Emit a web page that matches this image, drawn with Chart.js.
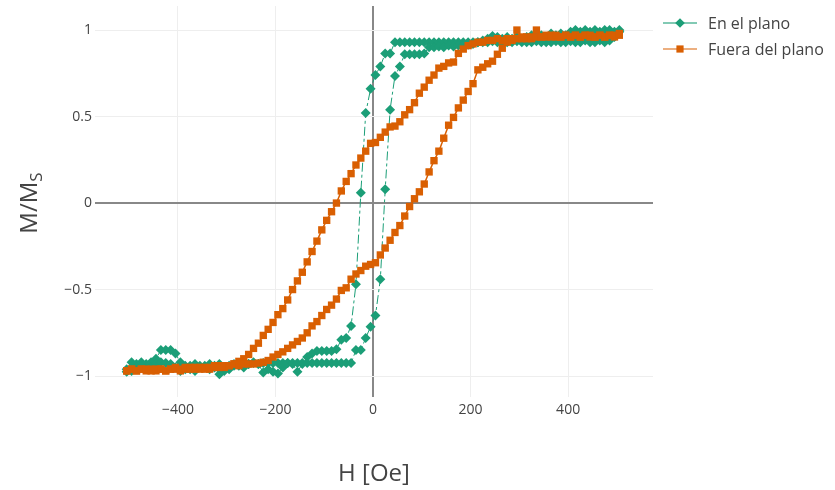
<!DOCTYPE html>
<html>
<head>
<meta charset="utf-8">
<script src="https://cdn.jsdelivr.net/npm/chart.js@4.4.1/dist/chart.umd.min.js"></script>
<style>
  html, body { margin: 0; padding: 0; background: #fff; }
</style>
</head>
<body>
<canvas id="chart" width="835" height="490"></canvas>
<script>
// ── Data ─────────────────────────────────────────────────────────────────────

const seriesNames = ['En el plano', 'Fuera del plano']
const xTitle = 'H [Oe]'
const xTicks = [-400, -200, 0, 200, 400]
const yTicks = [-1, -0.5, 0, 0.5, 1]

// applied field, descending sweep then ascending sweep (Oe)
const fieldDown = [505, 495, 485, 475, 465, 455, 445, 435, 425, 415, 405, 395, 385, 375, 365, 355, 345, 335, 325, 315,
  305, 295, 285, 275, 265, 255, 245, 235, 225, 215, 205, 195, 185, 175, 165, 155, 145, 135, 125, 115,
  105, 95, 85, 75, 65, 55, 45, 35, 25, 15, 5, -5, -15, -25, -35, -45, -55, -65, -75, -85,
  -95, -105, -115, -125, -135, -145, -155, -165, -175, -185, -195, -205, -215, -225, -235, -245, -255, -265, -275, -285,
  -295, -305, -315, -325, -335, -345, -355, -365, -375, -385, -395, -405, -415, -425, -435, -445, -455, -465, -475, -485,
  -495, -505]
const fieldUp = [-505, -495, -485, -475, -465, -455, -445, -435, -425, -415, -405, -395, -385, -375, -365, -355, -345, -335, -325, -315,
  -305, -295, -285, -275, -265, -255, -245, -235, -225, -215, -205, -195, -185, -175, -165, -155, -145, -135, -125, -115,
  -105, -95, -85, -75, -65, -55, -45, -35, -25, -15, -5, 5, 15, 25, 35, 45, 55, 65, 75, 85,
  95, 105, 115, 125, 135, 145, 155, 165, 175, 185, 195, 205, 215, 225, 235, 245, 255, 265, 275, 285,
  295, 305, 315, 325, 335, 345, 355, 365, 375, 385, 395, 405, 415, 425, 435, 445, 455, 465, 475, 485,
  495, 505]

// M/Ms, in-plane
const greenDown = [0.99, 0.96, 0.94, 0.93, 0.94, 0.93, 0.93, 0.94, 0.93, 0.93, 0.935, 0.93, 0.93, 0.935, 0.93, 0.93, 0.93, 0.935, 0.93, 0.93,
  0.93, 0.935, 0.93, 0.93, 0.93, 0.93, 0.935, 0.93, 0.93, 0.93, 0.93, 0.93, 0.93, 0.93, 0.93, 0.93, 0.93, 0.93, 0.93, 0.93,
  0.93, 0.93, 0.93, 0.93, 0.93, 0.93, 0.93, 0.865, 0.865, 0.79, 0.74, 0.66, 0.52, 0.06, -0.47, -0.71, -0.78, -0.79, -0.845, -0.855,
  -0.855, -0.855, -0.855, -0.87, -0.89, -0.93, -0.975, -0.93, -0.925, -0.95, -0.985, -0.975, -0.96, -0.98, -0.93, -0.92, -0.93, -0.95, -0.93, -0.94,
  -0.96, -0.97, -0.99, -0.95, -0.93, -0.94, -0.95, -0.93, -0.94, -0.96, -0.92, -0.87, -0.85, -0.85, -0.85, -0.90, -0.92, -0.93, -0.92, -0.93,
  -0.92, -0.96]
const greenUp = [-0.975, -0.97, -0.95, -0.945, -0.96, -0.95, -0.93, -0.92, -0.925, -0.93, -0.95, -0.97, -0.94, -0.96, -0.97, -0.94, -0.95, -0.96, -0.94, -0.93,
  -0.95, -0.94, -0.93, -0.94, -0.925, -0.93, -0.925, -0.93, -0.925, -0.925, -0.925, -0.925, -0.925, -0.925, -0.925, -0.925, -0.925, -0.925, -0.925, -0.925,
  -0.925, -0.925, -0.925, -0.925, -0.925, -0.925, -0.925, -0.85, -0.85, -0.78, -0.715, -0.65, -0.44, 0.08, 0.54, 0.735, 0.79, 0.86, 0.86, 0.86,
  0.86, 0.865, 0.90, 0.90, 0.905, 0.90, 0.91, 0.905, 0.91, 0.91, 0.915, 0.92, 0.93, 0.94, 0.95, 0.965, 0.96, 0.95, 0.96, 0.95,
  0.96, 0.95, 0.96, 0.97, 0.96, 0.97, 0.96, 0.98, 0.97, 0.98, 0.97, 0.99, 1.0, 0.99, 1.0, 0.99, 1.0, 0.99, 1.0, 1.0,
  0.99, 1.0]

// M/Ms, out of plane
const orangeDown = [0.97, 0.96, 0.97, 0.96, 0.97, 0.96, 0.96, 0.97, 0.96, 0.97, 0.96, 0.97, 0.96, 0.96, 0.97, 0.96, 0.96, 1.0, 0.96, 0.95,
  0.96, 1.0, 0.95, 0.95, 0.94, 0.95, 0.94, 0.94, 0.93, 0.93, 0.92, 0.91, 0.89, 0.865, 0.815, 0.81, 0.79, 0.78, 0.74, 0.71,
  0.67, 0.635, 0.58, 0.54, 0.51, 0.47, 0.445, 0.44, 0.41, 0.38, 0.35, 0.345, 0.30, 0.26, 0.22, 0.17, 0.125, 0.07, 0.0, -0.05,
  -0.10, -0.155, -0.22, -0.28, -0.34, -0.40, -0.45, -0.50, -0.56, -0.61, -0.645, -0.69, -0.73, -0.765, -0.81, -0.84, -0.875, -0.90, -0.915, -0.93,
  -0.94, -0.95, -0.94, -0.95, -0.96, -0.95, -0.96, -0.96, -0.95, -0.96, -0.97, -0.96, -0.96, -0.97, -0.96, -0.97, -0.96, -0.97, -0.96, -0.97,
  -0.96, -0.97]
const orangeUp = [-0.97, -0.96, -0.97, -0.96, -0.96, -0.97, -0.96, -0.96, -0.97, -0.96, -0.95, -0.96, -0.95, -0.96, -0.95, -0.95, -0.96, -0.95, -0.94, -0.95,
  -0.94, -0.94, -0.93, -0.94, -0.93, -0.93, -0.93, -0.925, -0.92, -0.91, -0.89, -0.875, -0.86, -0.84, -0.82, -0.80, -0.78, -0.75, -0.71, -0.685,
  -0.65, -0.615, -0.59, -0.555, -0.505, -0.49, -0.44, -0.41, -0.39, -0.365, -0.355, -0.345, -0.30, -0.26, -0.215, -0.17, -0.13, -0.075, -0.02, 0.025,
  0.065, 0.11, 0.18, 0.245, 0.30, 0.375, 0.45, 0.495, 0.55, 0.595, 0.645, 0.69, 0.77, 0.785, 0.805, 0.82, 0.86, 0.895, 0.93, 0.94,
  0.95, 0.95, 0.96, 0.95, 0.96, 0.96, 0.97, 0.96, 0.97, 0.96, 0.97, 0.96, 0.97, 0.96, 0.97, 0.97, 0.96, 0.97, 0.96, 0.97,
  0.97, 0.98]

// ── Style ────────────────────────────────────────────────────────────────────

const GREEN = '#1b9e77'
const ORANGE = '#d95f02'
const TEXT = '#444'
const FONT = '"Open Sans", "Noto Sans", sans-serif'

function fmtTick(v) {
  return v < 0 ? '\u2212' + Math.abs(v) : String(v)
}

function toPoints(field, m) {
  return field.map((h, i) => ({ x: h, y: m[i] }))
}

function drawMarker(ctx, kind, x, y, color) {
  ctx.fillStyle = color
  ctx.beginPath()
  if (kind === 'diamond') {
    const r = 4.8
    ctx.moveTo(x, y - r); ctx.lineTo(x + r, y); ctx.lineTo(x, y + r); ctx.lineTo(x - r, y)
  } else {
    const s = 3.6
    ctx.rect(x - s, y - s, 2 * s, 2 * s)
  }
  ctx.closePath()
  ctx.fill()
}

// axis titles (with subscript) and plotly-like legend
const overlay = {
  id: 'overlay',
  afterDraw(chart) {
    const ctx = chart.ctx
    ctx.save()
    ctx.fillStyle = TEXT
    ctx.textBaseline = 'alphabetic'

    ctx.font = '24px ' + FONT
    ctx.textAlign = 'center'
    ctx.fillText(xTitle, 374, 481)

    ctx.save()
    ctx.translate(37, 203)
    ctx.rotate(-Math.PI / 2)
    ctx.textAlign = 'left'
    ctx.font = '24px ' + FONT
    const w1 = ctx.measureText('M/M').width
    ctx.font = '17px ' + FONT
    const w2 = ctx.measureText('S').width
    const x0 = -(w1 + w2) / 2
    ctx.font = '24px ' + FONT
    ctx.fillText('M/M', x0, 0)
    ctx.font = '17px ' + FONT
    ctx.fillText('S', x0 + w1, 5)
    ctx.restore()

    const items = [
      { name: seriesNames[0], color: GREEN, light: 'rgba(27,158,119,0.55)', marker: 'diamond' },
      { name: seriesNames[1], color: ORANGE, light: 'rgba(217,95,2,0.5)', marker: 'square' }
    ]
    items.forEach((it, i) => {
      const y = 23 + i * 26
      ctx.strokeStyle = it.light
      ctx.lineWidth = 2
      ctx.beginPath()
      ctx.moveTo(663, y); ctx.lineTo(697, y)
      ctx.stroke()
      drawMarker(ctx, it.marker, 680, y, it.color)
      ctx.fillStyle = TEXT
      ctx.font = '16px ' + FONT
      ctx.textAlign = 'left'
      ctx.textBaseline = 'middle'
      ctx.fillText(it.name, 708, y + 1)
    })
    ctx.restore()
  }
}

// keep the plot box fixed: no automatic padding for tick labels
function noPad(s) {
  s.paddingTop = 0
  s.paddingBottom = 0
  s.paddingLeft = 0
  s.paddingRight = 0
}

new Chart(document.getElementById('chart'), {
  type: 'scatter',
  data: {
    datasets: [
      {
        label: seriesNames[0],
        data: toPoints(fieldDown, greenDown).concat(toPoints(fieldUp, greenUp)),
        showLine: true,
        borderColor: GREEN,
        borderWidth: 1,
        borderDash: [9, 3, 3, 3],
        pointStyle: 'rectRot',
        pointRadius: 5,
        pointBackgroundColor: GREEN,
        pointBorderWidth: 0,
        order: 2
      },
      {
        label: seriesNames[1],
        data: toPoints(fieldDown, orangeDown).concat(toPoints(fieldUp, orangeUp)),
        showLine: true,
        borderColor: ORANGE,
        borderWidth: 1.5,
        pointStyle: 'rect',
        pointRadius: 5.2,
        pointBackgroundColor: ORANGE,
        pointBorderWidth: 0,
        order: 1
      }
    ]
  },
  options: {
    responsive: false,
    animation: false,
    layout: { padding: { left: 0, right: 182, top: 6, bottom: 0 }, autoPadding: false },
    plugins: { legend: { display: false }, tooltip: { enabled: false } },
    scales: {
      x: {
        type: 'linear',
        min: -570,
        max: 574,
        afterBuildTicks: s => { s.ticks = xTicks.map(v => ({ value: v })) },
        afterFit: s => { s.height = 93; noPad(s) },
        border: { display: false },
        grid: {
          drawTicks: false,
          color: c => c.tick && c.tick.value === 0 ? '#888' : '#eee',
          lineWidth: c => c.tick && c.tick.value === 0 ? 2 : 1
        },
        ticks: { padding: 5, color: TEXT, font: { family: FONT, size: 14 }, callback: fmtTick, maxRotation: 0 }
      },
      y: {
        type: 'linear',
        min: -1.121,
        max: 1.139,
        afterBuildTicks: s => { s.ticks = yTicks.map(v => ({ value: v })) },
        afterFit: s => { s.width = 95; noPad(s) },
        border: { display: false },
        grid: {
          drawTicks: false,
          color: c => c.tick && c.tick.value === 0 ? '#888' : '#eee',
          lineWidth: c => c.tick && c.tick.value === 0 ? 2 : 1
        },
        ticks: { padding: 3, color: TEXT, font: { family: FONT, size: 14 }, callback: fmtTick }
      }
    }
  },
  plugins: [overlay]
})
</script>
</body>
</html>
